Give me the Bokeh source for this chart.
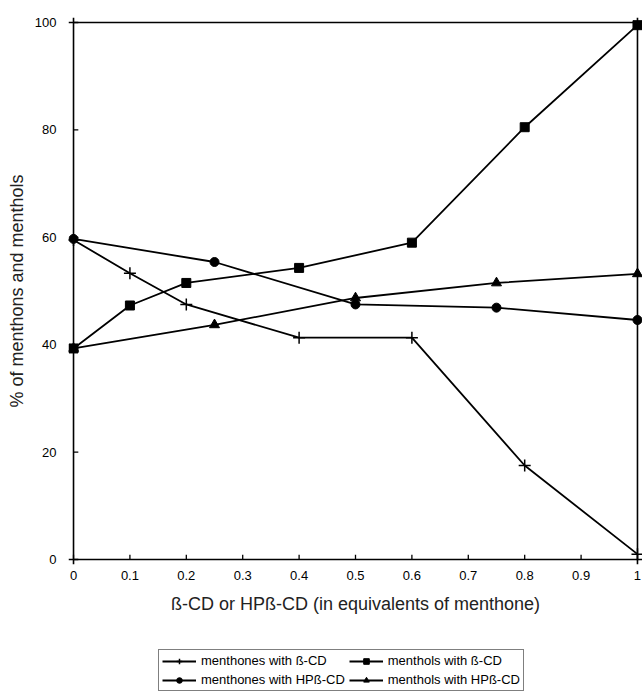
from bokeh.plotting import figure
from bokeh.models import Range1d, FixedTicker, Legend, LegendItem, Span
from bokeh.layouts import column
from bokeh.embed import file_html
from bokeh.resources import INLINE

# ---- data ----
x_bcd = [0, 0.1, 0.2, 0.4, 0.6, 0.8, 1.0]
menthones_bcd = [59.5, 53.3, 47.5, 41.3, 41.3, 17.5, 1.0]
menthols_bcd = [39.3, 47.3, 51.5, 54.3, 59.0, 80.5, 99.5]
x_hp = [0, 0.25, 0.5, 0.75, 1.0]
menthones_hp = [59.7, 55.4, 47.5, 46.9, 44.6]
menthols_hp = [39.3, 43.7, 48.7, 51.5, 53.2]

x_ticks = [0, 0.1, 0.2, 0.3, 0.4, 0.5, 0.6, 0.7, 0.8, 0.9, 1.0]
x_tick_labels = ["0", "0.1", "0.2", "0.3", "0.4", "0.5", "0.6", "0.7", "0.8", "0.9", "1"]
y_ticks = [0, 20, 40, 60, 80, 100]

series_names = ["menthones with ß-CD", "menthols with ß-CD",
                "menthones with HPß-CD", "menthols with HPß-CD"]
x_title = "ß-CD or HPß-CD (in equivalents of menthone)"
y_title = "% of menthons and menthols"

FONT = "Liberation Sans"
PADX = 0.0089   # ~5px padding so edge markers are not clipped
PADY = 0.93
TICKX = 0.0085  # inward tick length in data units (~5px)
TICKY = 0.9
LW = 1.8

p = figure(width=642, height=620, output_backend="svg", toolbar_location=None,
           x_range=Range1d(-PADX, 1 + PADX), y_range=Range1d(-PADY, 100 + PADY),
           min_border_left=68, min_border_right=0, min_border_top=17, min_border_bottom=56)
p.grid.visible = False
p.outline_line_color = None
p.background_fill_color = "white"
p.border_fill_color = "white"

# box lines at the data limits
for loc, dim in [(0, "height"), (1, "height"), (0, "width"), (100, "width")]:
    p.add_layout(Span(location=loc, dimension=dim, line_color="black", line_width=1.6))

# inward tick marks drawn at the tick positions
p.segment(x0=x_ticks, y0=[0] * len(x_ticks), x1=x_ticks, y1=[TICKY] * len(x_ticks),
          line_color="black", line_width=1.3)
p.segment(x0=[0] * len(y_ticks), y0=y_ticks, x1=[TICKX] * len(y_ticks), y1=y_ticks,
          line_color="black", line_width=1.3)

xa = p.xaxis[0]
xa.ticker = FixedTicker(ticks=x_ticks)
xa.major_label_overrides = {t: l for t, l in zip(x_ticks, x_tick_labels)}
ya = p.yaxis[0]
ya.ticker = FixedTicker(ticks=y_ticks)

for ax in (xa, ya):
    ax.axis_line_color = None
    ax.major_tick_in = 0
    ax.major_tick_out = 0
    ax.major_tick_line_color = None
    ax.minor_tick_line_color = None
    ax.major_label_text_font = FONT
    ax.major_label_text_font_size = "13px"
    ax.major_label_text_color = "black"
    ax.axis_label_text_font = FONT
    ax.axis_label_text_font_size = "18px"
    ax.axis_label_text_font_style = "normal"
    ax.axis_label_text_color = "#222222"

xa.axis_label = x_title
ya.axis_label = y_title
xa.major_label_standoff = 6
xa.axis_label_standoff = 11
ya.major_label_standoff = 12
ya.axis_label_standoff = 5

styles = [dict(marker="cross", size=12, line_width=1.5),
          dict(marker="square", size=9, line_width=1),
          dict(marker="circle", size=9, line_width=1),
          dict(marker="triangle", size=10, line_width=1)]
series = [(x_bcd, menthones_bcd), (x_bcd, menthols_bcd),
          (x_hp, menthones_hp), (x_hp, menthols_hp)]

for (xs, ys), st in zip(series, styles):
    p.line(xs, ys, line_color="black", line_width=LW)
    p.scatter(xs, ys, fill_color="black", line_color="black", **st)

# legend panel below the chart: same series, drawn outside its visible range
p2 = figure(width=642, height=76, output_backend="svg", toolbar_location=None,
            x_range=Range1d(0, 1), y_range=Range1d(1000, 1001),
            min_border_left=0, min_border_right=0, min_border_top=0, min_border_bottom=0)
p2.axis.visible = False
p2.grid.visible = False
p2.outline_line_color = None
p2.background_fill_color = "white"
p2.border_fill_color = "white"

leg_items = []
for (xs, ys), st, name in zip(series, styles, series_names):
    lr = p2.line(xs, ys, line_color="black", line_width=LW)
    sr = p2.scatter(xs, ys, fill_color="black", line_color="black", **st)
    leg_items.append(LegendItem(label=name, renderers=[lr, sr]))

# column-wise fill: col 1 = menthones, col 2 = menthols
ordered = [leg_items[0], leg_items[2], leg_items[1], leg_items[3]]
legend = Legend(items=ordered, ncols=2, location=(90, 5),
                border_line_color="black", border_line_width=1,
                background_fill_color="white", background_fill_alpha=1,
                label_text_font=FONT, label_text_font_size="13px",
                label_text_color="black",
                glyph_width=34, glyph_height=14, label_height=14,
                label_standoff=5, spacing=4, padding=3, margin=0)
p2.add_layout(legend)

layout = column(p, p2, spacing=0)
open("out.html", "w").write(file_html(layout, INLINE))
